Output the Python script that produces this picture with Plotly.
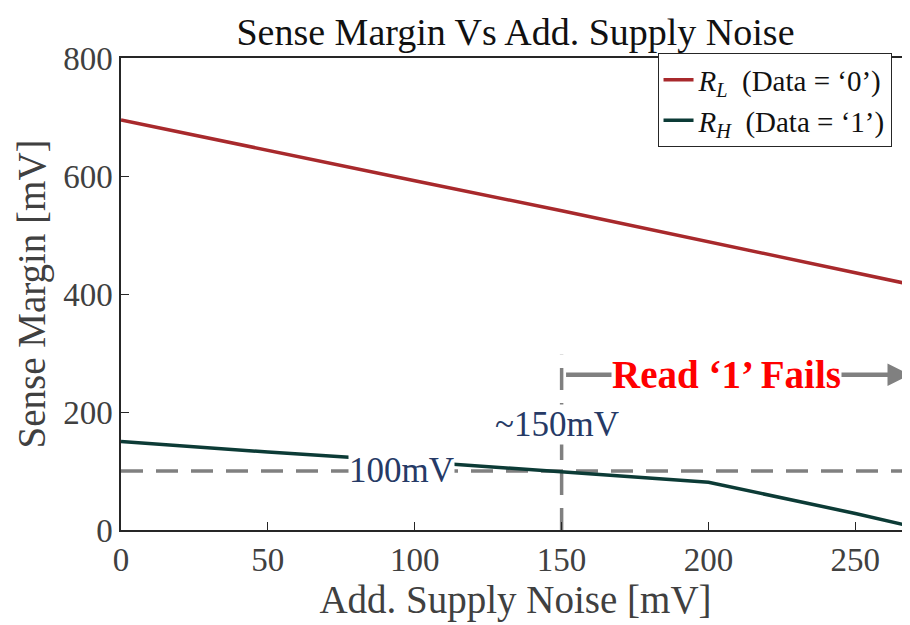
import plotly.graph_objects as go

noise_mv = [0, 50, 100, 150, 200, 250, 270]
rl_margin = [695, 643, 592, 541, 489, 437, 415]
rh_margin = [150, 132, 116, 99, 81, 28, 5]
x_ticks = [0, 50, 100, 150, 200, 250]
y_ticks = [0, 200, 400, 600, 800]
threshold_mv = 100
fail_noise_mv = 150
fail_bar_top = 297
arrow_level = 263

SERIF = "Liberation Serif, Times New Roman, serif"
AX = "#262626"
GRAY = "#808080"
NAVY = "#263A66"

fig = go.Figure()
fig.add_trace(go.Scatter(
    x=noise_mv, y=rl_margin, mode="lines",
    line=dict(color="#A8292C", width=3.5),
    name="<i>R</i><sub><i>L</i></sub>  (Data = ‘0’)"))
fig.add_trace(go.Scatter(
    x=noise_mv, y=rh_margin, mode="lines",
    line=dict(color="#0C3B36", width=3.5),
    name="<i>R</i><sub><i>H</i></sub>  (Data = ‘1’)"))

fig.add_shape(type="line", xref="x", yref="y", x0=0, x1=270,
              y0=threshold_mv, y1=threshold_mv,
              line=dict(color=GRAY, width=3.5, dash="22px,13px"), layer="below")
fig.add_shape(type="line", xref="x", yref="y", x0=fail_noise_mv, x1=fail_noise_mv,
              y0=0, y1=fail_bar_top,
              line=dict(color=GRAY, width=3.5, dash="22px,13px"), layer="below")

fig.add_annotation(x=268.6, y=arrow_level, ax=fail_noise_mv + 1, ay=arrow_level,
                   xref="x", yref="y", axref="x", ayref="y", text="",
                   showarrow=True, arrowhead=2, arrowsize=1.0, arrowwidth=4.5,
                   arrowcolor=GRAY)
fig.add_annotation(x=206, y=arrow_level, xref="x", yref="y",
                   text="<b>Read ‘1’ Fails</b>", showarrow=False,
                   bgcolor="white", borderpad=0,
                   font=dict(family=SERIF, size=39, color="#FF0000"))
fig.add_annotation(x=95.5, y=101, xref="x", yref="y", text="100mV",
                   showarrow=False, bgcolor="white", borderpad=0,
                   font=dict(family=SERIF, size=35, color=NAVY))
fig.add_annotation(x=148.5, y=178, xref="x", yref="y", text="~150mV",
                   showarrow=False, bgcolor="white", borderpad=0,
                   font=dict(family=SERIF, size=35, color=NAVY))

fig.update_layout(
    width=902, height=617,
    margin=dict(l=113, r=0, t=50, b=95),
    paper_bgcolor="white", plot_bgcolor="white",
    title=dict(text="Sense Margin Vs Add. Supply Noise", x=0.5, xanchor="center",
               xref="paper", y=0.962, yanchor="middle",
               font=dict(family=SERIF, size=38, color="#111111")),
    legend=dict(x=0.68, y=1.01, xanchor="left", yanchor="top",
                bgcolor="white", bordercolor=AX, borderwidth=1,
                font=dict(family=SERIF, size=29, color="#111111"),
                itemwidth=30, tracegroupgap=0),
    xaxis=dict(range=[0, 268.6], tickvals=x_ticks, ticks="inside", ticklen=8,
               tickcolor=AX, showline=True, linecolor=AX, linewidth=1.5,
               mirror=True, showgrid=False, zeroline=False,
               tickfont=dict(family=SERIF, size=33, color="#404040"),
               title=dict(text="Add. Supply Noise [mV]", standoff=6,
                          font=dict(family=SERIF, size=39, color="#404040"))),
    yaxis=dict(range=[0, 800], tickvals=y_ticks, ticks="inside", ticklen=8,
               tickcolor=AX, showline=True, linecolor=AX, linewidth=1.5,
               showgrid=False, zeroline=False,
               tickfont=dict(family=SERIF, size=33, color="#404040"),
               title=dict(text="Sense Margin [mV]", standoff=6,
                          font=dict(family=SERIF, size=39, color="#404040"))),
)

fig.write_html("out.html")
